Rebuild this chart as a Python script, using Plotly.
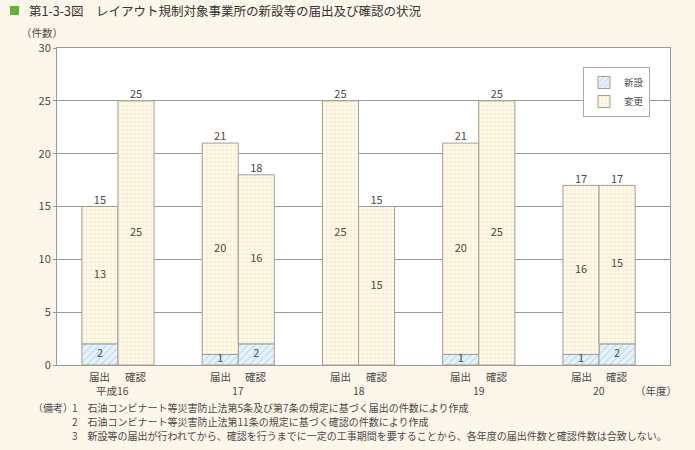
import plotly.graph_objects as go

years = ["平成16", "17", "18", "19", "20"]
kinds = ["届出", "確認"]
todoke_shinsetsu = [2, 1, 0, 1, 1]
todoke_henko = [13, 20, 25, 20, 16]
kakunin_shinsetsu = [0, 2, 0, 0, 2]
kakunin_henko = [25, 16, 15, 25, 15]

FONT = "Noto Sans CJK JP"
TXT = "#4a4a4a"
OUT = "#a39d94"
OFF = 0.15
W = 0.3

hatch = dict(shape="/", fgcolor="#9fcde9", bgcolor="#e6f3fb", size=5, solidity=0.3)
grid = dict(shape="+", fgcolor="#f5d69a", bgcolor="#fffdf6", size=4, solidity=0.45)

fig = go.Figure()
series = [(todoke_shinsetsu, todoke_henko, -OFF), (kakunin_shinsetsu, kakunin_henko, OFF)]
for k, (sh, hk, off) in enumerate(series):
    xs = [i + off for i in range(len(years))]
    fig.add_bar(x=xs, y=[v if v > 0 else None for v in sh], width=W, name="新設",
                showlegend=(k == 0),
                marker=dict(color="#e6f3fb", pattern=hatch, line=dict(color=OUT, width=1)))
for k, (sh, hk, off) in enumerate(series):
    xs = [i + off for i in range(len(years))]
    fig.add_bar(x=xs, y=hk, width=W, name="変更", base=sh,
                showlegend=(k == 0),
                marker=dict(color="#fffdf6", pattern=grid, line=dict(color=OUT, width=1)))

# labels
for sh, hk, off in series:
    xs = [i + off for i in range(len(years))]
    fig.add_scatter(x=xs, y=[s / 2 if s > 0 else None for s in sh], mode="text",
                    text=[str(s) if s > 0 else "" for s in sh], showlegend=False,
                    textfont=dict(size=11, color=TXT, family=FONT), hoverinfo="skip")
    fig.add_scatter(x=xs, y=[s + h / 2 for s, h in zip(sh, hk)], mode="text",
                    text=[str(h) for h in hk], showlegend=False,
                    textfont=dict(size=11, color=TXT, family=FONT), hoverinfo="skip")
    fig.add_scatter(x=xs, y=[s + h for s, h in zip(sh, hk)], mode="text",
                    text=[str(s + h) for s, h in zip(sh, hk)], textposition="top center",
                    showlegend=False, textfont=dict(size=11, color=TXT, family=FONT),
                    hoverinfo="skip")

L, R, T, B = 57, 25, 48, 85
PW = 695 - L - R
PH = 450 - T - B
x0, x1 = -0.507, 4.59

def px2x(px):
    return (px - L) / PW

def py2y(py):
    return (450 - B - py) / PH

ann = []
for i, yr in enumerate(years):
    for j, kd in enumerate(kinds):
        ann.append(dict(x=i + (-OFF if j == 0 else OFF), y=0, xref="x", yref="paper",
                        yshift=-11, text=kd, showarrow=False, yanchor="middle",
                        xanchor="center",
                        font=dict(size=10.5, color=TXT, family=FONT)))
    ann.append(dict(x=i, y=0, xref="x", yref="paper", yshift=-25, text=yr,
                    showarrow=False, yanchor="middle", xanchor="center",
                    xshift=(-5 if i == 0 else 0),
                    font=dict(size=10.5, color=TXT, family=FONT)))
ann.append(dict(x=px2x(656), y=py2y(390), xref="paper", yref="paper", text="（年度）",
                xanchor="center", yanchor="middle",
                showarrow=False, font=dict(size=10.5, color=TXT, family=FONT)))
ann.append(dict(x=px2x(42), y=py2y(32), xref="paper", yref="paper", text="（件数）",
                xanchor="center", yanchor="middle",
                showarrow=False, font=dict(size=10.5, color=TXT, family=FONT)))
ann.append(dict(x=px2x(27), y=py2y(10), xref="paper", yref="paper", xanchor="left",
                yanchor="middle",
                text="第1-3-3図　レイアウト規制対象事業所の新設等の届出及び確認の状況",
                showarrow=False, font=dict(size=12.5, color="#333", family=FONT)))
notes = [
    "石油コンビナート等災害防止法第5条及び第7条の規定に基づく届出の件数により作成",
    "石油コンビナート等災害防止法第11条の規定に基づく確認の件数により作成",
    "新設等の届出が行われてから、確認を行うまでに一定の工事期間を要することから、各年度の届出件数と確認件数は合致しない。",
]
ann.append(dict(x=px2x(31), y=py2y(407), xref="paper", yref="paper", xanchor="left",
                yanchor="middle",
                text="（備考）", showarrow=False, font=dict(size=10, color=TXT, family=FONT)))
for k, n in enumerate(notes):
    ann.append(dict(x=px2x(70), y=py2y(407 + 14 * k), xref="paper", yref="paper",
                    xanchor="left", yanchor="middle",
                    text=f"{k + 1}　{n}", showarrow=False,
                    font=dict(size=10, color=TXT, family=FONT)))

fig.update_layout(
    width=695, height=450,
    margin=dict(l=L, r=R, t=T, b=B),
    paper_bgcolor="#fdf6ea", plot_bgcolor="#ffffff",
    barmode="overlay",
    font=dict(family=FONT, color=TXT),
    annotations=ann,
    shapes=[dict(type="rect", xref="paper", yref="paper",
                 x0=px2x(10), x1=px2x(19), y0=py2y(15), y1=py2y(6),
                 fillcolor="#5cb531", line=dict(width=0))],
    legend=dict(x=px2x(583), y=py2y(67), xanchor="left", yanchor="top",
                bgcolor="#ffffff", bordercolor="#aaaaaa", borderwidth=1,
                traceorder="normal", font=dict(size=9.5, color=TXT, family=FONT),
                itemwidth=30, tracegroupgap=0),
    xaxis=dict(range=[x0, x1], showticklabels=False, ticks="", showgrid=False,
               zeroline=False, showline=True, linecolor="#999999", mirror=True),
    yaxis=dict(range=[0, 30], dtick=5, showgrid=True, gridcolor="#999999", gridwidth=1,
               zeroline=False, showline=True, linecolor="#999999", mirror=True,
               ticks="outside", ticklen=3, tickcolor="#999999",
               tickfont=dict(size=11, color=TXT, family=FONT)),
)
fig.write_html("out.html")
